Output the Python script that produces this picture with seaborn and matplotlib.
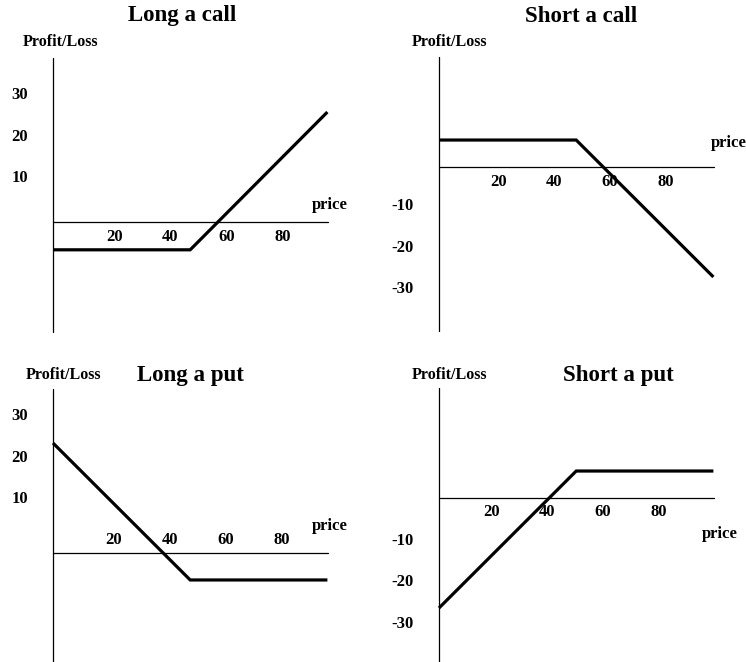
import matplotlib
matplotlib.use("Agg")
import matplotlib.pyplot as plt
import seaborn as sns
import pandas as pd

# payoff diagrams: price on x, profit/loss on y
titles = ["Long a call", "Short a call", "Long a put", "Short a put"]
price_pts = [0, 49, 98]
long_call = [-6.7, -6.7, 26.5]
short_call = [6.5, 6.5, -26.5]
long_put = [26.5, -6.5, -6.5]
short_put = [-26.5, 6.5, 6.5]
price_ticks = [20, 40, 60, 80]
pos_ticks = [30, 20, 10]
neg_ticks = [-10, -20, -30]
price_axis = [0, 98.2]
axis_up = [-26.5, 39.5]
axis_down = [-39.5, 26.5]

W, H = 746, 662
SX, SY = 2.8, 4.15  # pixels per unit

sns.set_theme(style="white")
plt.rcParams["font.family"] = ["Liberation Serif", "DejaVu Serif"]
plt.rcParams["font.weight"] = "bold"
plt.rcParams["text.color"] = "black"

panels = [
    dict(origin=(53, 222), y=long_call, vaxis=axis_up, yt=pos_ticks, yshift=0.5, ylab_x=-11.8,
         xshift=1.9, xlab_y=-3.6, price=(330, 205, "center"), pl=(60, 42), title=(182, 16)),
    dict(origin=(439, 167), y=short_call, vaxis=axis_down, yt=neg_ticks, yshift=0.6, ylab_x=-12.9,
         xshift=1.1, xlab_y=-3.6, price=(711, 143, "left"), pl=(449, 42), title=(581, 16)),
    dict(origin=(53, 553), y=long_put, vaxis=axis_up, yt=pos_ticks, yshift=3.0, ylab_x=-11.8,
         xshift=1.7, xlab_y=3.1, price=(330, 526, "center"), pl=(63, 375), title=(190, 375)),
    dict(origin=(439, 498), y=short_put, vaxis=axis_down, yt=neg_ticks, yshift=-0.3, ylab_x=-12.9,
         xshift=-1.4, xlab_y=-3.4, price=(702, 534, "left"), pl=(449, 375), title=(618, 375)),
]

fig = plt.figure(figsize=(W / 100, H / 100), dpi=100)


def fx(px):
    return px / W


def fy(py):
    return 1 - py / H


for title, p in zip(titles, panels):
    ox, oy = p["origin"]
    ax = fig.add_axes([0, 0, 1, 1])
    ax.patch.set_alpha(0)
    ax.set_xlim(-ox / SX, (W - ox) / SX)
    ax.set_ylim((oy - H) / SY, oy / SY)
    ax.axis("off")

    # axes lines
    ax.plot(price_axis, [0, 0], color="black", lw=0.9)
    ax.plot([0, 0], p["vaxis"], color="black", lw=0.9)

    df = pd.DataFrame({"price": price_pts, "pl": p["y"]})
    sns.lineplot(data=df, x="price", y="pl", ax=ax, color="black", lw=2.3,
                 solid_joinstyle="miter", solid_capstyle="butt")

    for v in price_ticks:
        ax.text(v + p["xshift"], p["xlab_y"], str(v), ha="center", va="center",
                fontsize=12, fontweight="bold")
    for v in p["yt"]:
        ax.text(p["ylab_x"], v + p["yshift"], str(v), ha="center", va="center",
                fontsize=12, fontweight="bold")

    px, py, ha = p["price"]
    fig.text(fx(px), fy(py), "price", ha=ha, va="center", fontsize=12, fontweight="bold")
    fig.text(fx(p["pl"][0]), fy(p["pl"][1]), "Profit/Loss", ha="center", va="center",
             fontsize=11.5, fontweight="bold")
    fig.text(fx(p["title"][0]), fy(p["title"][1]), title, ha="center", va="center",
             fontsize=16.5, fontweight="bold")

fig.savefig("out.png", dpi=100, facecolor="white")
